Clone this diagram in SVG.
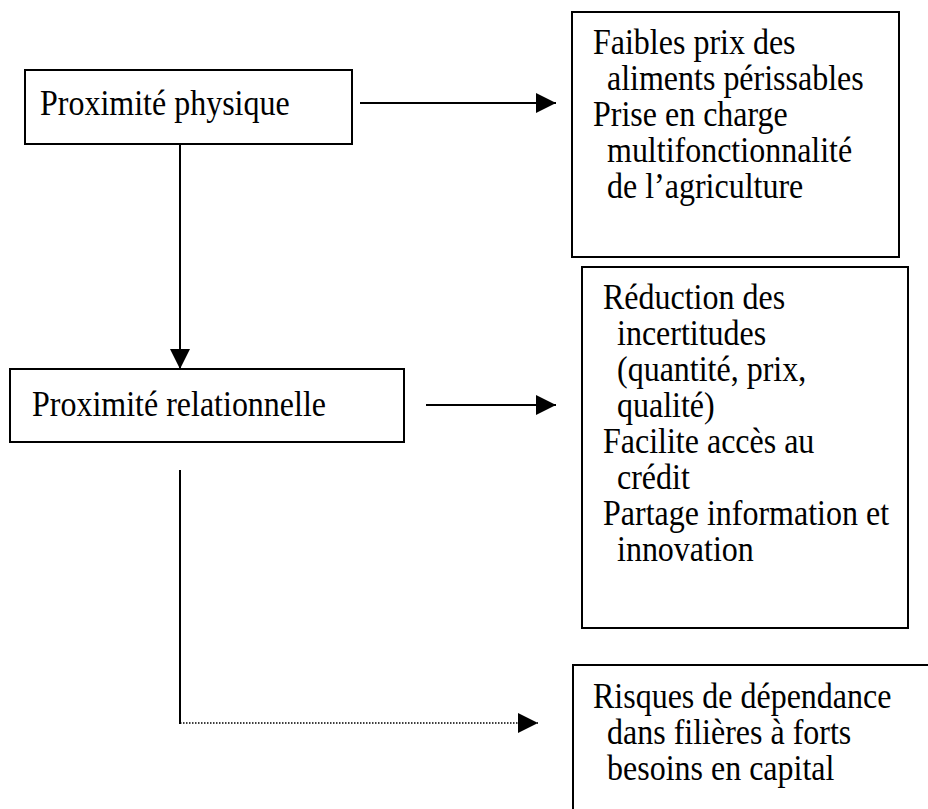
<svg xmlns="http://www.w3.org/2000/svg" width="928" height="809" viewBox="0 0 928 809">
<style>
.box{fill:#fff;stroke:#000;stroke-width:2}
.t{font-family:"Liberation Serif","Times New Roman",serif;font-size:32px;fill:#000}
.ln{stroke:#000;stroke-width:2;fill:none}
.dot{stroke:#000;stroke-width:1.5;stroke-dasharray:1.5 1.5;fill:none}
</style>
<defs>
<marker id="ah" markerWidth="20" markerHeight="20" refX="20" refY="10" orient="auto" markerUnits="userSpaceOnUse">
<path d="M0,0 L20,10 L0,20 Z" fill="#000"/>
</marker>
</defs>
<rect width="928" height="809" fill="#fff"/>
<g id="connectors">
<line class="ln" x1="360" y1="103" x2="556" y2="103" marker-end="url(#ah)"/>
<line class="ln" x1="180" y1="144" x2="180" y2="369" marker-end="url(#ah)"/>
<line class="ln" x1="426" y1="405" x2="556" y2="405" marker-end="url(#ah)"/>
<line class="ln" x1="180" y1="470" x2="180" y2="724"/>
<line class="dot" x1="180" y1="723" x2="538" y2="723" marker-end="url(#ah)"/>
</g>
<g id="physique">
<rect class="box" x="25" y="70" width="327" height="74"/>
<text class="t" transform="translate(40 115) scale(1 1.1)">Proximité physique</text>
</g>
<g id="effets-physique">
<rect class="box" x="572" y="12" width="327" height="245"/>
<text class="t" transform="translate(593 54) scale(1 1.1)">Faibles prix des</text>
<text class="t" transform="translate(607 90) scale(1 1.1)">aliments périssables</text>
<text class="t" transform="translate(593 126) scale(1 1.1)">Prise en charge</text>
<text class="t" transform="translate(607 162) scale(1 1.1)">multifonctionnalité</text>
<text class="t" transform="translate(607 198) scale(1 1.1)">de l’agriculture</text>
</g>
<g id="relationnelle">
<rect class="box" x="10" y="369" width="394" height="73"/>
<text class="t" transform="translate(32 416) scale(1 1.1)">Proximité relationnelle</text>
</g>
<g id="effets-relationnelle">
<rect class="box" x="582" y="267" width="326" height="361"/>
<text class="t" transform="translate(603 309) scale(1 1.1)">Réduction des</text>
<text class="t" transform="translate(617 345) scale(1 1.1)">incertitudes</text>
<text class="t" transform="translate(617 381) scale(1 1.1)">(quantité, prix,</text>
<text class="t" transform="translate(617 417) scale(1 1.1)">qualité)</text>
<text class="t" transform="translate(603 453) scale(1 1.1)">Facilite accès au</text>
<text class="t" transform="translate(617 489) scale(1 1.1)">crédit</text>
<text class="t" transform="translate(603 525) scale(1 1.1)">Partage information et</text>
<text class="t" transform="translate(617 561) scale(1 1.1)">innovation</text>
</g>
<g id="risques">
<rect class="box" x="573" y="665" width="400" height="200"/>
<text class="t" transform="translate(593 708) scale(1 1.1)">Risques de dépendance</text>
<text class="t" transform="translate(607 744) scale(1 1.1)">dans filières à forts</text>
<text class="t" transform="translate(607 780) scale(1 1.1)">besoins en capital</text>
</g>
</svg>
